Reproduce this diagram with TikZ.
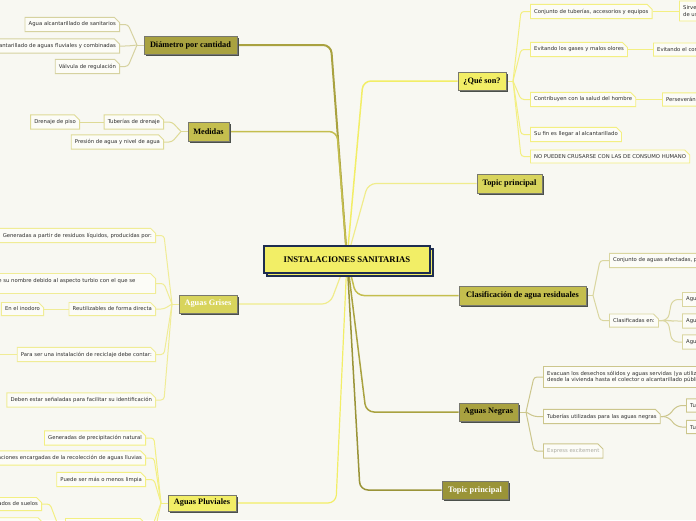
\documentclass[tikz,border=0pt]{standalone}
\usepackage{fontspec}
\setmainfont{Liberation Serif}
\newfontfamily\subf{DejaVu Sans}
\usetikzlibrary{shapes.misc,shadows}
\definecolor{bg}{RGB}{248,248,242}
\definecolor{yel}{RGB}{242,238,102}
\definecolor{navy}{RGB}{30,45,80}
\definecolor{olA}{RGB}{169,162,64}
\definecolor{olB}{RGB}{196,190,78}
\definecolor{olC}{RGB}{216,212,92}
\definecolor{olD}{RGB}{154,148,56}
\definecolor{tborder}{RGB}{120,120,110}
\definecolor{tshadow}{RGB}{75,80,75}
\definecolor{subfill}{RGB}{252,252,247}
\definecolor{subtext}{RGB}{45,45,45}
\definecolor{bA}{RGB}{214,210,160}
\definecolor{bB}{RGB}{222,218,150}
\definecolor{bC}{RGB}{240,236,150}
\definecolor{bD}{RGB}{243,239,130}
\definecolor{bE}{RGB}{218,214,160}
\definecolor{bF}{RGB}{204,198,140}
\definecolor{lC}{RGB}{240,236,140}
\definecolor{grayt}{RGB}{170,170,160}
\pgfdeclarelayer{back}
\pgfdeclarelayer{conn}
\pgfsetlayers{back,conn,main}
\begin{document}
\begin{tikzpicture}[x=1pt,y=-1pt,
  topic/.style={draw=tborder, line width=0.7pt, inner sep=0pt,
    font=\bfseries\fontsize{8.3}{10}\selectfont,
    drop shadow={shadow xshift=2pt, shadow yshift=-2pt, fill=tshadow, opacity=1}},
  subn/.style={chamfered rectangle, chamfered rectangle corners=north east,
    chamfered rectangle sep=2.5pt, draw=#1, fill=subfill, line width=0.9pt,
    font=\subf\fontsize{5.3}{6.6}\selectfont, text=subtext,
    inner xsep=1.2pt, inner ysep=2pt, minimum height=13pt},
  scon/.style={draw=#1, line width=1pt, rounded corners=3pt},
  mcon/.style={draw=#1, rounded corners=8pt}]
\useasboundingbox (0,0) rectangle (696,520);
\begin{pgfonlayer}{back}
\fill[bg] (0,0) rectangle (696,520);
\end{pgfonlayer}

% central
\node[draw=navy, line width=1.2pt, fill=yel, minimum width=166pt, minimum height=27pt,
  font=\bfseries\fontsize{8.7}{10}\selectfont,
  copy shadow={shadow xshift=3pt, shadow yshift=-3pt}] (c) at (347,259.5) {INSTALACIONES SANITARIAS};
\coordinate (C) at (347,259);

% topics
\node[topic, fill=olA, minimum width=93pt, minimum height=18pt] (dia) at (190.5,45) {Diámetro por cantidad};
\node[topic, fill=olB, minimum width=41pt, minimum height=19pt] (med) at (208.5,131.5) {Medidas};
\node[topic, fill=olC, text=white, minimum width=58pt, minimum height=18pt] (gri) at (208,304) {Aguas Grises};
\node[topic, fill=yel, minimum width=68pt, minimum height=16pt] (plu) at (202,503) {Aguas Pluviales};
\node[topic, fill=yel, minimum width=48pt, minimum height=18pt] (que) at (482,81) {¿Qué son?};
\node[topic, fill=olC, minimum width=65pt, minimum height=19pt] (tp1) at (509.5,183.5) {Topic principal};
\node[topic, fill=olB, minimum width=127pt, minimum height=19pt] (cla) at (522.5,295.5) {Clasificación de agua residuales};
\node[topic, fill=olA, minimum width=59pt, minimum height=18pt] (neg) at (488.5,412) {Aguas Negras};
\node[topic, fill=olD, text=white, minimum width=66pt, minimum height=18pt] (tp2) at (475,490) {Topic principal};

% Diámetro children
\node[subn=bA, anchor=east] (d1) at (120,24.5) {Agua alcantarillado de sanitarios};
\node[subn=bA, anchor=east] (d2) at (120,46) {Alcantarillado de aguas fluviales y combinadas};
\node[subn=bA, anchor=east] (d3) at (120,66.5) {Válvula de regulación};
\coordinate (dJ) at (137,45);

% Medidas children
\node[subn=bB, anchor=east] (m1) at (164,122) {Tuberías de drenaje};
\node[subn=bB, anchor=east] (m1a) at (80,122) {Drenaje de piso};
\node[subn=bB, anchor=east] (m2) at (164,142) {Presión de agua y nivel de agua};
\coordinate (mJ) at (181,131.5);

% Aguas Grises children
\node[subn=bC, anchor=east] (g1) at (156,235.5) {Generadas a partir de residuos líquidos, producidas por:};
\node[subn=bC, anchor=east, text width=168pt, align=left, minimum height=20pt] (g2) at (156,283.5) {Recibe su nombre debido al aspecto turbio con el que se\\\mbox{}};
\node[subn=bC, anchor=east] (g3) at (156,309) {Reutilizables de forma directa};
\node[subn=bC, anchor=east] (g3a) at (44,309) {En el inodoro};
\node[subn=bC, anchor=east] (g4) at (156,354.5) {Para ser una instalación de reciclaje debe contar:};
\coordinate (g4o) at (-10,354.5);
\node[subn=bC, anchor=east] (g5) at (156,400) {Deben estar señaladas para facilitar su identificación};
\coordinate (gJ) at (172,304);

% Aguas Pluviales children
\node[subn=bD, anchor=east] (p1) at (146,438) {Generadas de precipitación natural};
\node[subn=bD, anchor=east] (p2) at (146,458) {Instalaciones encargadas de la recolección de aguas lluvias};
\node[subn=bD, anchor=east] (p3) at (146,479.5) {Puede ser más o menos limpia};
\node[subn=bD, anchor=north west, minimum width=78pt] (p4) at (65,518) {};
\node[subn=bD, anchor=east] (p4a) at (42,504) {Lavados de suelos};
\node[subn=bD, anchor=north east, minimum width=60pt] (p4b) at (40,519) {};
\coordinate (pJ) at (161,503);
\coordinate (pO) at (152,545);

% ¿Qué son? children
\node[subn=bD, anchor=west] (q1) at (530,11.5) {Conjunto de tuberías, accesorios y equipos};
\node[subn=bD, anchor=west, align=left, minimum height=20pt] (q1a) at (679,11) {Sirven para evacuar\\de uso doméstico};
\node[subn=bD, anchor=west] (q2) at (530,49.5) {Evitando los gases y malos olores};
\node[subn=bD, anchor=west] (q2a) at (653,49.5) {Evitando el contacto};
\node[subn=bD, anchor=west] (q3) at (530,99.5) {Contribuyen con la salud del hombre};
\node[subn=bD, anchor=west] (q3a) at (662,99.5) {Perseverán la salud};
\node[subn=bD, anchor=west] (q4) at (530,134.5) {Su fin es llegar al alcantarillado};
\node[subn=bD, anchor=west] (q5) at (530,156.5) {NO PUEDEN CRUSARSE CON LAS DE CONSUMO HUMANO};
\coordinate (qJ) at (513,81);

% Clasificación children
\node[subn=bE, anchor=west] (k1) at (609,260.5) {Conjunto de aguas afectadas, por el uso humano};
\node[subn=bE, anchor=west] (k2) at (609,320.5) {Clasificadas en:};
\node[subn=bE, anchor=west] (k2a) at (682,299.5) {Aguas Negras};
\node[subn=bE, anchor=west] (k2b) at (682,321) {Aguas Grises};
\node[subn=bE, anchor=west] (k2c) at (682,342) {Aguas Pluviales};
\coordinate (kJ) at (593,295.5);

% Aguas Negras children
\node[subn=bF, anchor=west, align=left, minimum height=20pt] (n1) at (543,377) {Evacuan los desechos sólidos y aguas servidas (ya utilizadas)\\desde la vivienda hasta el colector o alcantarillado público};
\node[subn=bF, anchor=west] (n2) at (543,416.5) {Tuberías utilizadas para las aguas negras};
\node[subn=bF, anchor=west] (n2a) at (686,405.5) {Tuberías de PVC};
\node[subn=bF, anchor=west] (n2b) at (686,427) {Tuberías de hierro};
\node[subn=bF, anchor=west, text=grayt] (n3) at (543,451) {Express excitement};
\coordinate (nJ) at (526,412);

\begin{pgfonlayer}{conn}
% main connectors
\draw[mcon=olA, line width=2pt] (C) -- (331,45) -- (dia.east);
\draw[mcon=olB, line width=1.5pt] (C) -- (337,131.5) -- (med.east);
\draw[mcon=lC, line width=1.2pt] (C) -- (330,304) -- (gri.east);
\draw[mcon=yel, line width=1.2pt] (C) -- (336,503) -- (plu.east);
\draw[mcon=yel, line width=1.5pt] (C) -- (363,81) -- (que.west);
\draw[mcon=lC, line width=1.2pt] (C) -- (368,183.5) -- (tp1.west);
\draw[mcon=olB, line width=1.5pt] (C) -- (356,295.5) -- (cla.west);
\draw[mcon=olA, line width=1.5pt] (C) -- (366,412) -- (neg.west);
\draw[mcon=olD, line width=1.5pt] (C) -- (360,490) -- (tp2.west);

% Diámetro
\draw[scon=bA] (dia.west) -- (dJ);
\foreach \n in {d1,d2,d3} \draw[scon=bA] (\n.east) -- ++(8,0) -- (dJ);
% Medidas
\draw[scon=bB] (med.west) -- (mJ);
\foreach \n in {m1,m2} \draw[scon=bB] (\n.east) -- ++(8,0) -- (mJ);
\draw[scon=bB] (m1a.east) -- (m1.west);
% Grises
\draw[scon=bC] (gri.west) -- (gJ);
\foreach \n in {g1,g2,g3,g4,g5} \draw[scon=bC] (\n.east) -- ++(8,0) -- (gJ);
\draw[scon=bC] (g3a.east) -- (g3.west |- g3a.east);
\draw[scon=bC] (g4.west) -- (g4o);
% Pluviales
\draw[scon=bD] (plu.west) -- (pJ);
\foreach \n in {p1,p2,p3} \draw[scon=bD] (\n.east) -- ++(8,0) -- (pJ);
\draw[scon=bD] (p4.east) -- ++(9,0) -- (pJ);
\draw[scon=bD] (pO) -- (pJ);
\draw[scon=bD] (p4a.east) -- ++(8,0) -- ([xshift=-7pt]p4.west) -- (p4.west);
\draw[scon=bD] (p4b.east) -- ++(8,0) -- ([xshift=-7pt]p4.west);
% Qué son
\draw[scon=bD] (que.east) -- (qJ);
\foreach \n in {q1,q2,q3,q4,q5} \draw[scon=bD] (qJ) -- ([xshift=-9pt]\n.west) -- (\n.west);
\draw[scon=bD] (q1.east) -- (q1a.west |- q1.east);
\draw[scon=bD] (q2.east) -- (q2a.west);
\draw[scon=bD] (q3.east) -- (q3a.west);
% Clasificación
\draw[scon=bE] (cla.east) -- (kJ);
\foreach \n in {k1,k2} \draw[scon=bE] (kJ) -- ([xshift=-9pt]\n.west) -- (\n.west);
\foreach \n in {k2a,k2b,k2c} \draw[scon=bE, rounded corners=6pt] (k2.east) -- ++(9,0) -- ([xshift=-10pt]\n.west) -- (\n.west);
% Negras
\draw[scon=bF] (neg.east) -- (nJ);
\foreach \n in {n1,n2,n3} \draw[scon=bF] (nJ) -- ([xshift=-9pt]\n.west) -- (\n.west);
\foreach \n in {n2a,n2b} \draw[scon=bF, rounded corners=6pt] (n2.east) -- ++(8,0) -- ([xshift=-10pt]\n.west) -- (\n.west);
\end{pgfonlayer}
\end{tikzpicture}
\end{document}
